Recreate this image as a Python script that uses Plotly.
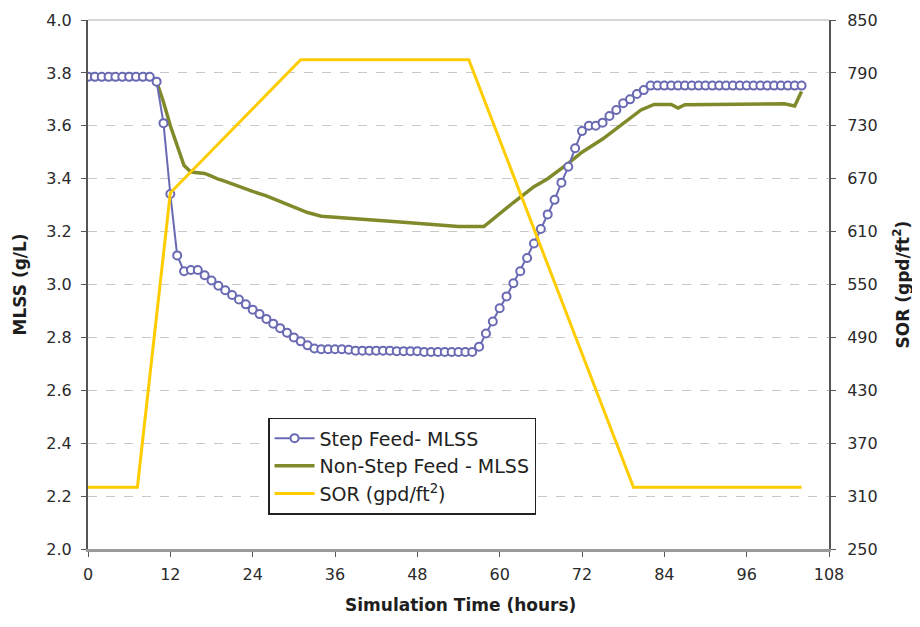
import plotly.graph_objects as go

# ---- data ----
step_time = list(range(0, 105))
step_mlss = ([3.785] * 10 +
             [3.767, 3.61, 3.342, 3.11, 3.05, 3.055, 3.055, 3.035, 3.015, 2.995,
              2.978, 2.96, 2.943, 2.925, 2.905, 2.888, 2.87, 2.852, 2.835, 2.818,
              2.80, 2.785, 2.77, 2.758, 2.755,
              2.755, 2.755, 2.755, 2.753, 2.75, 2.75, 2.75, 2.75, 2.75, 2.75,
              2.748, 2.748, 2.748, 2.748, 2.745, 2.745, 2.745, 2.745, 2.745, 2.745, 2.745,
              2.745, 2.765, 2.815, 2.86, 2.91, 2.955, 3.005, 3.05, 3.10, 3.155,
              3.21, 3.265, 3.32, 3.385, 3.445, 3.515, 3.58, 3.60, 3.60, 3.612,
              3.637, 3.66, 3.685, 3.70, 3.72, 3.735, 3.752] +
             [3.752] * 22)

nonstep_time = [0, 9, 10, 11, 12, 13, 14, 15, 16, 17, 18, 19, 20, 22, 24, 26, 28, 30, 32,
                34, 36, 39, 42, 45, 48, 51, 54, 57.7, 60, 62, 65, 67, 70, 72, 75, 78,
                80.6, 82.5, 85, 86, 87, 101.5, 103, 104]
nonstep_mlss = [3.785, 3.785, 3.767, 3.69, 3.60, 3.52, 3.45, 3.425, 3.422, 3.42, 3.41,
                3.398, 3.39, 3.37, 3.352, 3.335, 3.315, 3.294, 3.272, 3.258, 3.255,
                3.25, 3.243, 3.237, 3.23, 3.225, 3.219, 3.219, 3.27, 3.31, 3.37, 3.40,
                3.458, 3.50, 3.55, 3.61, 3.66, 3.681, 3.681, 3.667, 3.68, 3.683,
                3.675, 3.73]

sor_time = [0, 7.2, 12, 31, 55.5, 79.5, 104]
sor_value = [320, 320, 654, 805, 805, 320, 320]

x_ticks = list(range(0, 109, 12))
left_ticks = [2.0, 2.2, 2.4, 2.6, 2.8, 3.0, 3.2, 3.4, 3.6, 3.8, 4.0]
right_ticks = list(range(250, 851, 60))

# ---- figure ----
FONT = "DejaVu Sans, Arial, sans-serif"
TICKFONT = dict(family=FONT, size=16, color="#2a2a2a")
TITLEFONT = dict(family=FONT, size=17, color="#1e1e1e")

fig = go.Figure()

fig.add_trace(go.Scatter(
    x=sor_time, y=sor_value, yaxis="y2", mode="lines",
    name="SOR (gpd/ft<sup>2</sup>)",
    line=dict(color="#FFCC00", width=3)))

fig.add_trace(go.Scatter(
    x=nonstep_time, y=nonstep_mlss, mode="lines",
    name="Non-Step Feed - MLSS",
    line=dict(color="#808A2A", width=3.5)))

fig.add_trace(go.Scatter(
    x=step_time, y=step_mlss, mode="lines+markers",
    name="Step Feed- MLSS",
    line=dict(color="#6A6AB4", width=2),
    marker=dict(symbol="circle", size=8, color="white",
                line=dict(color="#6A6AB4", width=2))))

# the page body adds an 8px offset, so margins are shifted by 8px
fig.update_layout(
    width=920, height=627,
    margin=dict(l=80, r=99, t=12, b=86),
    paper_bgcolor="white", plot_bgcolor="white",
    font=dict(family=FONT, size=16, color="#333333"),
    showlegend=True,
    legend=dict(
        x=0.243, y=0.248, xanchor="left", yanchor="top",
        bordercolor="#222222", borderwidth=1.5, bgcolor="white",
        font=dict(family=FONT, size=19, color="#222222"),
        traceorder="reversed", tracegroupgap=0, itemwidth=40),
    xaxis=dict(
        range=[0, 108], tickvals=x_ticks, ticktext=[str(v) for v in x_ticks],
        showgrid=False, zeroline=False, automargin=False,
        showline=True, linecolor="#9a9a9a", linewidth=3,
        ticks="outside", ticklen=5, tickcolor="#555555",
        tickfont=TICKFONT, ticklabelstandoff=4),
    yaxis=dict(
        range=[2.0, 4.0], tickvals=left_ticks,
        ticktext=["%.1f" % v for v in left_ticks],
        showgrid=True, gridcolor="#c8c8c8", griddash="dash", gridwidth=1,
        zeroline=False, automargin=False,
        showline=True, linecolor="#555555", linewidth=2,
        ticks="outside", ticklen=5, tickcolor="#555555",
        tickfont=TICKFONT, ticklabelstandoff=6),
    yaxis2=dict(
        range=[250, 850], tickvals=right_ticks,
        overlaying="y", side="right", showgrid=False, zeroline=False,
        automargin=False,
        showline=True, linecolor="#555555", linewidth=2,
        ticks="outside", ticklen=5, tickcolor="#555555",
        tickfont=TICKFONT, ticklabelstandoff=8),
)

# top border line at 4.0
fig.add_shape(type="line", xref="paper", yref="paper", x0=0, x1=1, y0=1, y1=1,
              line=dict(color="#c8c8c8", width=1.5))

# axis titles
fig.add_annotation(text="<b>MLSS (g/L)</b>", xref="paper", yref="paper",
                   x=-69 / 741, y=0.5, xanchor="center", yanchor="middle",
                   textangle=-90, showarrow=False, font=TITLEFONT)
fig.add_annotation(text="<b>SOR (gpd/ft<sup>2</sup>)</b>", xref="paper", yref="paper",
                   x=1 + 72 / 741, y=0.5, xanchor="center", yanchor="middle",
                   textangle=-90, showarrow=False, font=TITLEFONT)
fig.add_annotation(text="<b>Simulation Time (hours)</b>", xref="paper", yref="paper",
                   x=(460 - 88) / 741, y=-(605 - 549) / 529, xanchor="center",
                   yanchor="middle", showarrow=False, font=TITLEFONT)

fig.write_html("out.html")
